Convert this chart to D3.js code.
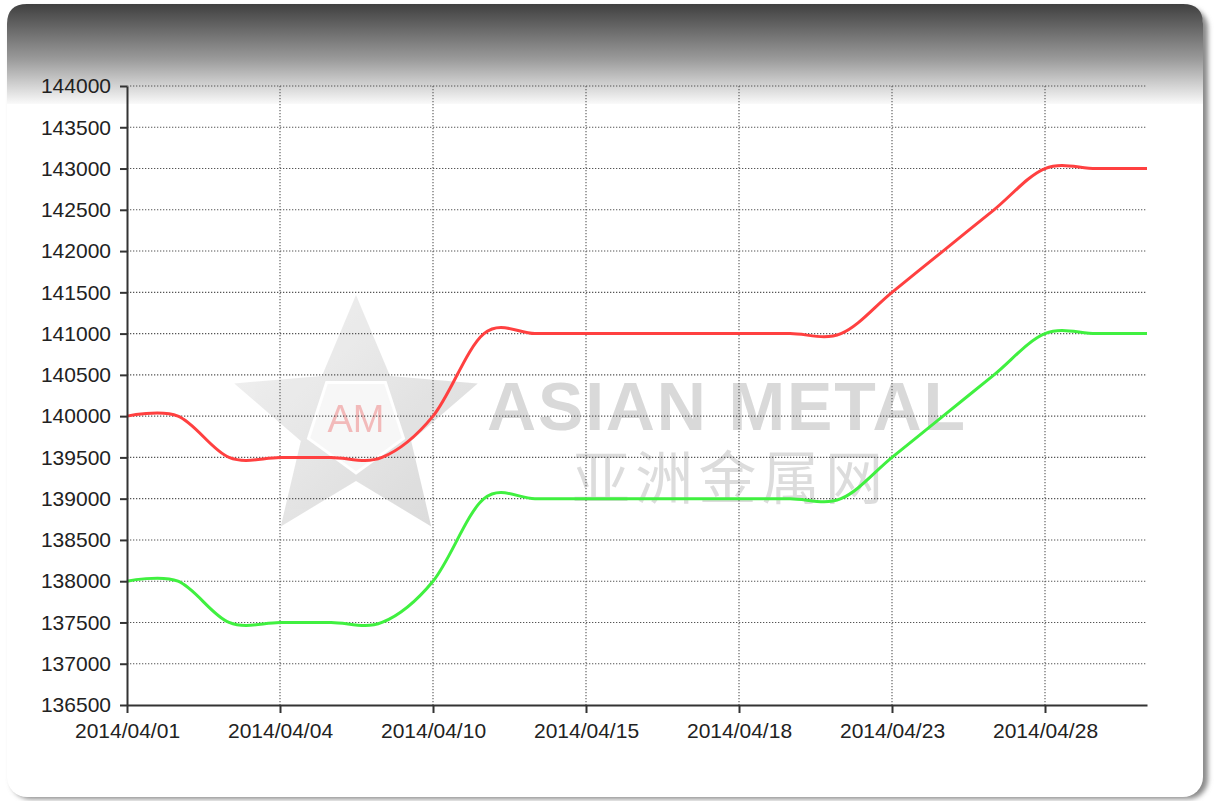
<!DOCTYPE html>
<html>
<head>
<meta charset="utf-8">
<script src="https://cdn.jsdelivr.net/npm/d3@7"></script>
<style>
  html, body { margin: 0; padding: 0; background: #fff; }
  #chart { width: 1215px; height: 801px; }
  .tick text { font-family: "Liberation Sans", Arial, sans-serif; font-size: 21px; fill: #222; }
</style>
</head>
<body>
<div id="chart"></div>
<script>
// trading days shown on the chart
const dates = ["2014/04/01", "2014/04/02", "2014/04/03", "2014/04/04", "2014/04/08", "2014/04/09",
  "2014/04/10", "2014/04/11", "2014/04/14", "2014/04/15", "2014/04/16", "2014/04/17", "2014/04/18",
  "2014/04/21", "2014/04/22", "2014/04/23", "2014/04/24", "2014/04/25", "2014/04/28", "2014/04/29", "2014/04/30"];

// high / low price
const highPrices = [140000, 140000, 139500, 139500, 139500, 139500, 140000, 141000, 141000, 141000,
  141000, 141000, 141000, 141000, 141000, 141500, 142000, 142500, 143000, 143000, 143000];
const lowPrices = [138000, 138000, 137500, 137500, 137500, 137500, 138000, 139000, 139000, 139000,
  139000, 139000, 139000, 139000, 139000, 139500, 140000, 140500, 141000, 141000, 141000];

const xLabels = ["2014/04/01", "2014/04/04", "2014/04/10", "2014/04/15", "2014/04/18", "2014/04/23", "2014/04/28"];
const yTicks = d3.range(136500, 144001, 500);

const width = 1215, height = 801;

const svg = d3.select("#chart")
    .append("svg")
    .attr("width", width)
    .attr("height", height);

const defs = svg.append("defs");

// header gradient
const hg = defs.append("linearGradient")
    .attr("id", "headGrad")
    .attr("gradientUnits", "userSpaceOnUse")
    .attr("x1", 0).attr("y1", 4).attr("x2", 0).attr("y2", 104);
hg.append("stop").attr("offset", "0%").attr("stop-color", "#404040");
hg.append("stop").attr("offset", "55%").attr("stop-color", "#9a9a9a");
hg.append("stop").attr("offset", "100%").attr("stop-color", "#fafafa");

defs.append("filter").attr("id", "blur")
    .append("feGaussianBlur").attr("stdDeviation", 2.5);

const sg = defs.append("linearGradient")
    .attr("id", "starGrad")
    .attr("x1", 0).attr("y1", 0).attr("x2", 1).attr("y2", 1);
sg.append("stop").attr("offset", "0%").attr("stop-color", "#f0f0f0");
sg.append("stop").attr("offset", "100%").attr("stop-color", "#d0d0d0");

// panel with shadow
svg.append("rect")
    .attr("x", 11).attr("y", 8)
    .attr("width", 1197).attr("height", 791)
    .attr("rx", 20)
    .attr("fill", "#8a8a8a")
    .attr("filter", "url(#blur)");

svg.append("rect")
    .attr("x", 7).attr("y", 4)
    .attr("width", 1196).attr("height", 793)
    .attr("rx", 20)
    .attr("fill", "#fff");

// header band (rounded top, square bottom)
svg.append("path")
    .attr("d", "M7,104 L7,24 Q7,4 27,4 L1183,4 Q1203,4 1203,24 L1203,104 Z")
    .attr("fill", "url(#headGrad)");

const x = d3.scalePoint()
    .domain(dates)
    .range([127, 1147]);

const y = d3.scaleLinear()
    .domain([136500, 144000])
    .range([705, 86]);

// watermark
const wm = svg.append("g").attr("opacity", 0.8);
const starPts = d3.range(10).map(i => {
    const r = i % 2 === 0 ? 128 : 58;
    const a = -Math.PI / 2 + i * Math.PI / 5;
    return [356 + r * Math.cos(a), 423 + r * Math.sin(a)];
});
wm.append("polygon")
    .attr("points", starPts.map(p => p.join(",")).join(" "))
    .attr("fill", "url(#starGrad)");
const pentPts = d3.range(5).map(i => {
    const a = -Math.PI / 2 + Math.PI / 5 + i * 2 * Math.PI / 5;
    return [356 + 50 * Math.cos(a), 423 + 50 * Math.sin(a)];
});
wm.append("polygon")
    .attr("points", pentPts.map(p => p.join(",")).join(" "))
    .attr("fill", "#f6f6f6")
    .attr("stroke", "#fff")
    .attr("stroke-width", 3);
wm.append("text")
    .attr("x", 356).attr("y", 432)
    .attr("text-anchor", "middle")
    .attr("font-family", "Liberation Sans, Arial, sans-serif")
    .attr("font-size", 38)
    .attr("fill", "#f0aaaa")
    .text("AM");
wm.append("text")
    .attr("x", 487).attr("y", 430)
    .attr("font-family", "Liberation Sans, Arial, sans-serif")
    .attr("font-weight", "bold")
    .attr("font-size", 68)
    .attr("textLength", 478)
    .attr("fill", "#d0d0d0")
    .text("ASIAN METAL");
wm.append("text")
    .attr("x", 572).attr("y", 499)
    .attr("font-family", "Noto Sans CJK SC, sans-serif")
    .attr("font-size", 58)
    .attr("textLength", 311)
    .attr("fill", "#d4d4d4")
    .text("亚洲金属网");

// grid
const grid = svg.append("g")
    .attr("stroke", "#555")
    .attr("stroke-width", 1.1)
    .attr("stroke-dasharray", "1.3,1.7");

grid.selectAll(".hgrid")
    .data(yTicks.filter(v => v > 136500))
    .enter().append("line")
    .attr("x1", 127).attr("x2", 1147)
    .attr("y1", d => y(d)).attr("y2", d => y(d));

grid.selectAll(".vgrid")
    .data(xLabels.slice(1))
    .enter().append("line")
    .attr("x1", d => x(d)).attr("x2", d => x(d))
    .attr("y1", y(144000)).attr("y2", y(136500));

// series
const line = d3.line()
    .x((d, i) => x(dates[i]))
    .y(d => y(d))
    .curve(d3.curveCardinal);

svg.append("path")
    .datum(highPrices)
    .attr("d", line)
    .attr("fill", "none")
    .attr("stroke", "#ff4040")
    .attr("stroke-width", 3);

svg.append("path")
    .datum(lowPrices)
    .attr("d", line)
    .attr("fill", "none")
    .attr("stroke", "#40f040")
    .attr("stroke-width", 3);

// axes
const yAxis = svg.append("g")
    .attr("transform", "translate(127,0)")
    .call(d3.axisLeft(y).tickValues(yTicks).tickFormat(d3.format("d")).tickSize(7).tickSizeOuter(0).tickPadding(9));

const xAxis = svg.append("g")
    .attr("transform", "translate(0,705)")
    .call(d3.axisBottom(x).tickValues(xLabels).tickSize(8).tickSizeOuter(0).tickPadding(10));

[yAxis, xAxis].forEach(g => {
    g.select(".domain").attr("stroke", "#333").attr("stroke-width", 2);
    g.selectAll(".tick line").attr("stroke", "#333").attr("stroke-width", 2);
});
</script>
</body>
</html>
